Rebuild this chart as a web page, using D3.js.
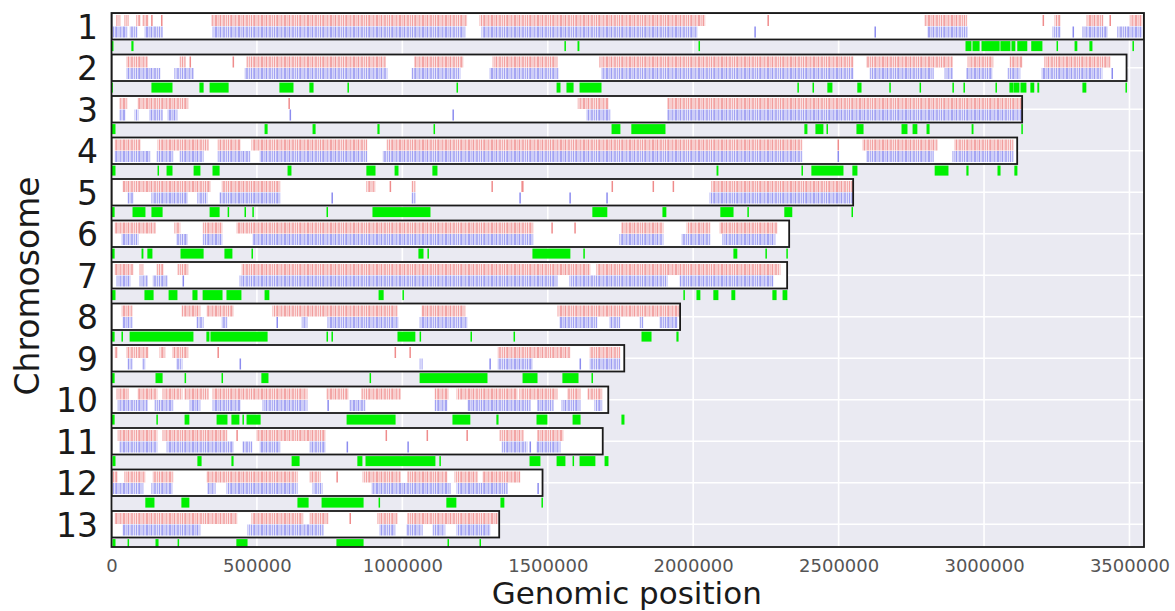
<!DOCTYPE html>
<html>
<head>
<meta charset="utf-8">
<script src="https://cdn.jsdelivr.net/npm/d3@7"></script>
<style>
  body { margin: 0; background: #fff; }
  svg { display: block; font-family: 'DejaVu Sans', sans-serif; }
</style>
</head>
<body>
<div id="chart"></div>
<script>
// chromosome names and lengths (kb)
const chromosomes = ['1', '2', '3', '4', '5', '6', '7', '8', '9', '10', '11', '12', '13'];
const lengthsKb = [3550, 3490, 3131, 3114, 2550, 2330, 2323, 1955, 1763, 1708, 1689, 1482, 1333];
const xTicks = [0, 500000, 1000000, 1500000, 2000000, 2500000, 3000000, 3500000];

// feature spans [start, end] in kb, one list per chromosome
const redKb = [
  [[18, 29], [46, 57], [87, 98], [108, 125], [138, 138], [172, 172], [345, 1221], [1267, 2040], [2257, 2257], [2797, 2940], [3203, 3203], [3244, 3261], [3354, 3409], [3433, 3433], [3502, 3543]],
  [[53, 122], [235, 253], [270, 270], [418, 418], [466, 941], [1043, 1208], [1312, 1532], [1679, 2549], [2597, 2890], [2945, 3031], [3089, 3130], [3209, 3433]],
  [[29, 53], [91, 263], [610, 610], [1604, 1707], [1913, 3130]],
  [[12, 98], [160, 332], [366, 442], [483, 878], [947, 2374], [2498, 2498], [2584, 2838], [2900, 3099]],
  [[40, 339], [380, 579], [878, 906], [958, 958], [1033, 1043], [1308, 1308], [1411, 1415], [1721, 1721], [1862, 1862], [1931, 1931], [2064, 2549]],
  [[12, 150], [218, 235], [315, 380], [431, 1449], [1514, 1514], [1593, 1593], [1755, 1896], [1979, 2058], [2092, 2288]],
  [[12, 74], [98, 108], [156, 177], [229, 263], [449, 1645], [1669, 2298]],
  [[36, 70], [242, 304], [328, 418], [555, 982], [1068, 1215], [1535, 1955]],
  [[12, 19], [53, 125], [167, 184], [211, 263], [366, 366], [975, 975], [1026, 1026], [1329, 1576], [1645, 1748]],
  [[19, 57], [91, 156], [177, 242], [253, 332], [349, 672], [741, 813], [861, 992], [1112, 1157], [1188, 1394], [1404, 1532], [1569, 1611], [1638, 1686]],
  [[22, 156], [177, 397], [431, 431], [500, 734], [944, 944], [1085, 1085], [1222, 1222], [1336, 1415], [1466, 1552]],
  [[5, 19], [46, 115], [143, 211], [328, 638], [682, 717], [775, 775], [865, 992], [1019, 1153], [1181, 1257], [1277, 1404]],
  [[12, 431], [483, 658], [682, 744], [820, 820], [916, 982], [1019, 1329]]
];

const blueKb = [
  [[5, 53], [64, 88], [115, 174], [349, 1215], [1274, 2013], [2212, 2212], [2625, 2625], [2807, 2941], [3237, 3261], [3306, 3306], [3340, 3423], [3460, 3543]],
  [[53, 167], [218, 280], [459, 947], [1033, 1198], [1301, 1535], [1686, 2549], [2608, 2825], [2866, 2890], [2941, 3027], [3082, 3123], [3199, 3405], [3440, 3440]],
  [[29, 46], [81, 91], [132, 174], [194, 225], [614, 614], [1174, 1174], [1635, 1714], [1913, 3130]],
  [[12, 132], [156, 211], [235, 315], [366, 476], [511, 878], [934, 2374], [2498, 2498], [2597, 2825], [2893, 3099]],
  [[57, 74], [139, 260], [297, 328], [373, 579], [758, 758], [1033, 1043], [1404, 1404], [1576, 1576], [1703, 1703], [2058, 2549]],
  [[36, 91], [225, 260], [315, 380], [486, 1449], [1748, 1896], [1961, 2058], [2102, 2281]],
  [[19, 64], [98, 122], [143, 191], [246, 246], [442, 1532], [1576, 1910], [1955, 2274]],
  [[40, 70], [294, 315], [380, 397], [569, 569], [655, 672], [744, 985], [1061, 1222], [1542, 1669], [1714, 1748], [1817, 1827], [1886, 1944]],
  [[57, 70], [108, 115], [225, 242], [442, 442], [1061, 1068], [1301, 1301], [1329, 1446], [1611, 1611], [1645, 1748]],
  [[22, 122], [150, 211], [270, 304], [349, 442], [521, 672], [744, 744], [820, 872], [1112, 1153], [1226, 1439], [1466, 1518], [1549, 1611], [1662, 1686]],
  [[29, 156], [191, 418], [452, 483], [511, 579], [682, 734], [810, 810], [1019, 1019], [1343, 1428], [1439, 1439], [1463, 1542]],
  [[5, 108], [139, 208], [332, 356], [397, 638], [693, 724], [896, 1164], [1188, 1360], [1466, 1466]],
  [[40, 304], [469, 727], [923, 975], [1016, 1068], [1105, 1146], [1188, 1301]]
];

const greenKb = [
  [[0, 5], [70, 74], [1559, 1559], [1604, 1607], [2020, 2020], [2938, 2955], [2962, 2983], [2993, 3052], [3058, 3089], [3096, 3106], [3116, 3147], [3164, 3199], [3251, 3251], [3313, 3319], [3364, 3371], [3512, 3512]],
  [[0, 3], [139, 208], [304, 315], [339, 401], [579, 624], [682, 693], [813, 813], [1188, 1188], [1532, 1542], [1566, 1587], [1611, 1683], [2360, 2360], [2412, 2412], [2463, 2477], [2566, 2577], [2676, 2676], [2780, 2780], [2893, 2893], [2931, 2931], [3041, 3041], [3089, 3099], [3103, 3120], [3127, 3144], [3161, 3171], [3185, 3188], [3340, 3350], [3488, 3488]],
  [[2, 12], [528, 535], [693, 700], [916, 920], [1109, 1109], [1721, 1748], [1789, 1903], [2384, 2391], [2422, 2446], [2460, 2460], [2563, 2584], [2718, 2735], [2756, 2769], [2804, 2811], [2959, 2962], [3130, 3130]],
  [[0, 12], [160, 160], [191, 208], [284, 304], [349, 370], [607, 617], [878, 906], [975, 985], [1105, 1119], [2082, 2085], [2374, 2374], [2408, 2515], [2549, 2563], [2832, 2876], [2941, 2945], [3048, 3055], [3106, 3113]],
  [[2, 9], [74, 115], [139, 174], [339, 370], [401, 401], [459, 459], [486, 486], [741, 741], [899, 1095], [1655, 1703], [1896, 1906], [2095, 2137], [2188, 2188], [2315, 2339], [2546, 2546]],
  [[2, 9], [105, 108], [125, 139], [239, 315], [390, 414], [483, 483], [1057, 1071], [1088, 1088], [1449, 1576], [1624, 1624], [2140, 2150], [2250, 2250], [2322, 2322]],
  [[2, 12], [115, 143], [198, 225], [280, 294], [315, 380], [397, 445], [528, 541], [920, 934], [1002, 1002], [1968, 1968], [2013, 2023], [2071, 2085], [2133, 2143], [2274, 2285], [2309, 2322]],
  [[2, 9], [36, 36], [64, 280], [328, 335], [342, 535], [741, 741], [758, 758], [985, 1043], [1061, 1061], [1236, 1236], [1384, 1384], [1824, 1855], [1944, 1948]],
  [[2, 9], [153, 174], [253, 253], [380, 380], [517, 538], [889, 889], [1061, 1291], [1415, 1463], [1552, 1604], [1652, 1652]],
  [[2, 9], [156, 156], [253, 266], [363, 397], [414, 438], [452, 452], [466, 511], [810, 975], [1174, 1232], [1325, 1329], [1463, 1497], [1587, 1611], [1755, 1762]],
  [[5, 12], [297, 308], [414, 418], [621, 645], [847, 861], [875, 1112], [1129, 1129], [1439, 1473], [1532, 1559], [1587, 1587], [1611, 1662], [1697, 1707]],
  [[118, 146], [242, 266], [641, 676], [724, 865], [920, 920], [1153, 1184], [1339, 1349], [1480, 1480]],
  [[5, 12], [57, 57], [153, 160], [229, 229], [431, 466], [775, 865], [1157, 1157], [1267, 1267]]
];

const width = 1175;
const height = 611;
const plot = { left: 111.5, right: 1144, top: 13, bottom: 547 };
const rowStep = 41.5;
const boxH = 26.5;

const svg = d3.select('#chart').append('svg')
  .attr('width', width)
  .attr('height', height);

const defs = svg.append('defs');

// hatch patterns to imitate many thin, overlapping feature ticks
function hatch(id, rgb) {
  const p = defs.append('pattern')
    .attr('id', id)
    .attr('patternUnits', 'userSpaceOnUse')
    .attr('width', 23)
    .attr('height', 40);
  p.append('rect').attr('width', 23).attr('height', 40)
    .style('fill', `rgba(${rgb},0.1)`);
  const lines = [[0.5, 0.55], [2.4, 0.25], [4.6, 0.4], [6.3, 0.2], [8.4, 0.6], [10.6, 0.28],
    [12.7, 0.45], [14.5, 0.18], [16.4, 0.5], [18.8, 0.3], [20.9, 0.38]];
  lines.forEach(([lx, a]) => {
    p.append('rect')
      .attr('x', lx).attr('y', 0)
      .attr('width', 1.2).attr('height', 40)
      .style('fill', `rgba(${rgb},${a})`);
  });
}
hatch('redHatch', '225,45,45');
hatch('blueHatch', '45,45,225');

defs.append('clipPath').attr('id', 'plotClip')
  .append('rect')
  .attr('x', plot.left).attr('y', plot.top)
  .attr('width', plot.right - plot.left)
  .attr('height', plot.bottom - plot.top);

const xScale = d3.scaleLinear()
  .domain([0, 3550000])
  .range([plot.left, plot.right]);

const yScale = d3.scalePoint()
  .domain(chromosomes)
  .range([plot.top + boxH / 2, plot.top + boxH / 2 + rowStep * (chromosomes.length - 1)]);

// background
svg.append('rect')
  .attr('x', plot.left).attr('y', plot.top)
  .attr('width', plot.right - plot.left)
  .attr('height', plot.bottom - plot.top)
  .style('fill', '#eaeaf2');

const grid = svg.append('g').attr('clip-path', 'url(#plotClip)');

grid.selectAll('.vgrid')
  .data(xTicks)
  .enter().append('line')
  .attr('class', 'vgrid')
  .attr('x1', d => xScale(d)).attr('x2', d => xScale(d))
  .attr('y1', plot.top).attr('y2', plot.bottom)
  .style('stroke', '#fff')
  .style('stroke-width', 1.6);

grid.selectAll('.hgrid')
  .data(chromosomes)
  .enter().append('line')
  .attr('class', 'hgrid')
  .attr('x1', plot.left).attr('x2', plot.right)
  .attr('y1', d => yScale(d)).attr('y2', d => yScale(d))
  .style('stroke', '#fff')
  .style('stroke-width', 1.6);

const rows = svg.append('g')
  .attr('clip-path', 'url(#plotClip)')
  .selectAll('.row')
  .data(chromosomes)
  .enter().append('g')
  .attr('class', 'row')
  .attr('transform', d => `translate(0,${yScale(d) - boxH / 2})`);

rows.append('rect')
  .attr('class', 'box')
  .attr('x', xScale(0))
  .attr('y', 0)
  .attr('width', (d, i) => xScale(lengthsKb[i] * 1000) - xScale(0))
  .attr('height', boxH)
  .style('fill', '#fff');

// wide spans get the hatch, isolated features a single tick
function drawTrack(sel, data, cls, y0, h, hatchFill, tickFill) {
  sel.each(function (c, i) {
    d3.select(this).selectAll(`.${cls}`)
      .data(data[i])
      .enter().append('rect')
      .attr('class', cls)
      .attr('x', d => xScale(d[0] * 1000) - 0.5)
      .attr('y', y0)
      .attr('width', d => Math.max(xScale(d[1] * 1000) - xScale(d[0] * 1000) + 1, 1.5))
      .attr('height', h)
      .style('fill', d => (d[1] - d[0] >= 6 ? hatchFill : tickFill));
  });
}

drawTrack(rows, redKb, 'red', 2, 11, 'url(#redHatch)', 'rgba(225,45,45,0.55)');
drawTrack(rows, blueKb, 'blue', 13.5, 11, 'url(#blueHatch)', 'rgba(45,45,225,0.55)');
drawTrack(rows, greenKb, 'green', boxH + 1.6, 10, '#00f000', '#00f000');

rows.append('rect')
  .attr('class', 'boxEdge')
  .attr('x', xScale(0))
  .attr('y', 0)
  .attr('width', (d, i) => xScale(lengthsKb[i] * 1000) - xScale(0))
  .attr('height', boxH)
  .style('fill', 'none')
  .style('stroke', '#1a1a1a')
  .style('stroke-width', 1.8);

// frame
svg.append('rect')
  .attr('x', plot.left).attr('y', plot.top)
  .attr('width', plot.right - plot.left)
  .attr('height', plot.bottom - plot.top)
  .style('fill', 'none')
  .style('stroke', '#1a1a1a')
  .style('stroke-width', 1.8);

// axes
const xAxis = d3.axisBottom(xScale)
  .tickValues(xTicks)
  .tickSize(0)
  .tickFormat(d3.format('d'));

const xLabel = svg.append('g')
  .attr('class', 'xAxis')
  .attr('transform', `translate(0,${plot.bottom})`)
  .call(xAxis);
xLabel.select('.domain').remove();
xLabel.selectAll('.tick text')
  .attr('y', 25)
  .attr('dy', null)
  .style('font-family', 'DejaVu Sans')
  .style('font-size', '18px')
  .style('fill', '#555');

const yAxis = d3.axisLeft(yScale).tickSize(0);
const yLabel = svg.append('g')
  .attr('class', 'yAxis')
  .attr('transform', `translate(${plot.left},0)`)
  .call(yAxis);
yLabel.select('.domain').remove();
yLabel.selectAll('.tick text')
  .attr('x', -13.5)
  .attr('dy', '0.36em')
  .style('font-family', 'DejaVu Sans')
  .style('font-size', '33px')
  .style('fill', '#1a1a1a');

svg.append('text')
  .attr('x', (plot.left + plot.right) / 2 - 1)
  .attr('y', 604)
  .style('text-anchor', 'middle')
  .style('font-size', '31px')
  .style('fill', '#1a1a1a')
  .text('Genomic position');

svg.append('text')
  .attr('transform', `translate(39,${(plot.top + plot.bottom) / 2 + 6}) rotate(-90)`)
  .style('text-anchor', 'middle')
  .style('font-size', '33px')
  .style('fill', '#1a1a1a')
  .text('Chromosome');
</script>
</body>
</html>
